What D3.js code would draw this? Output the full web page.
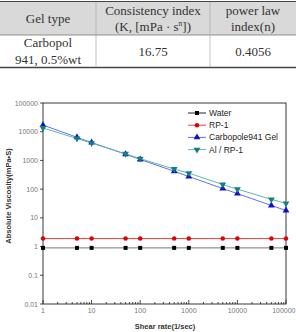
<!DOCTYPE html>
<html>
<head>
<meta charset="utf-8">
<script src="https://cdn.jsdelivr.net/npm/d3@7"></script>
<style>
  body { margin: 0; background: #fff; }
  svg { display: block; }
</style>
</head>
<body>
<svg id="chart" width="296" height="332"></svg>
<script>
// table content
const tableHeader = [["Gel type"], ["Consistency  index", "(K,  [mPa · s^n])"], ["power  law", "index(n)"]];
const tableRow = [["Carbopol", "941,  0.5%wt"], ["16.75"], ["0.4056"]];

// chart data
const shearRates = [1, 5, 10, 50, 100, 500, 1000, 5000, 10000, 50000, 100000];
const water = [0.9, 0.9, 0.9, 0.9, 0.9, 0.9, 0.9, 0.9, 0.9, 0.9, 0.9];
const rp1 = [1.9, 1.9, 1.9, 1.9, 1.9, 1.9, 1.9, 1.9, 1.9, 1.9, 1.9];
const carbopol = [17000, 6400, 4200, 1650, 1080, 420, 275, 105, 70, 27, 18];
const alRp1 = [13500, 5800, 4000, 1700, 1150, 500, 360, 145, 100, 44, 32];
const seriesNames = ["Water", "RP-1", "Carbopole941 Gel", "Al / RP-1"];
const xTicks = [1, 10, 100, 1000, 10000, 100000];
const yTicks = [0.01, 0.1, 1, 10, 100, 1000, 10000, 100000];

const svg = d3.select("#chart");

// ---- table ----
const colX = [0, 96, 210, 296];
const tbl = svg.append("g").attr("font-family", "'Liberation Serif', 'DejaVu Serif', serif")
  .attr("font-size", 13).attr("fill", "#333").style("white-space", "pre");

tbl.append("rect").attr("x", 0).attr("y", 2).attr("width", 296).attr("height", 33).attr("fill", "#d9d9d9");
tbl.append("line").attr("x1", 0).attr("x2", 296).attr("y1", 1.5).attr("y2", 1.5).attr("stroke", "#444").attr("stroke-width", 1.2);
tbl.append("line").attr("x1", 0).attr("x2", 296).attr("y1", 35).attr("y2", 35).attr("stroke", "#777").attr("stroke-width", 0.8);
tbl.append("line").attr("x1", 0).attr("x2", 296).attr("y1", 67.5).attr("y2", 67.5).attr("stroke", "#444").attr("stroke-width", 1.4);
[1, 2].forEach(i => {
  tbl.append("line").attr("x1", colX[i]).attr("x2", colX[i]).attr("y1", 2).attr("y2", 67)
    .attr("stroke", "#aaa").attr("stroke-width", 0.7);
});

function cellText(lines, col, yTop, yBot) {
  const cx = (colX[col] + colX[col + 1]) / 2;
  const mid = (yTop + yBot) / 2;
  const lh = 16.5;
  lines.forEach((ln, j) => {
    const yy = mid + (j - (lines.length - 1) / 2) * lh + 4.5;
    const t = tbl.append("text").attr("x", cx).attr("y", yy).attr("text-anchor", "middle");
    if (ln.includes("^n")) {
      const parts = ln.split("^n");
      t.append("tspan").text(parts[0]);
      t.append("tspan").attr("font-size", 7.5).attr("dy", -5).text("n");
      t.append("tspan").attr("dy", 5).text(parts[1]);
    } else {
      t.text(ln);
    }
  });
}
tableHeader.forEach((c, i) => cellText(c, i, 2, 35));
tableRow.forEach((c, i) => cellText(c, i, 35, 67));

// ---- chart ----
const x = d3.scaleLog().domain([1, 100000]).range([43, 286]);
const y = d3.scaleLog().domain([0.01, 100000]).range([304, 103]);

const axisFont = "'Liberation Sans', Arial, sans-serif";

// frame
svg.append("rect").attr("x", 43).attr("y", 103).attr("width", 243).attr("height", 201)
  .attr("fill", "none").attr("stroke", "#222").attr("stroke-width", 0.9);

// x axis ticks (major + minor, inward)
const xAxis = svg.append("g").attr("stroke", "#222").attr("stroke-width", 0.8);
for (let d = 1; d < 100000; d *= 10) {
  for (let m = 1; m <= 9; m++) {
    const v = d * m;
    xAxis.append("line").attr("x1", x(v)).attr("x2", x(v))
      .attr("y1", 304).attr("y2", m === 1 ? 300 : 302);
  }
}
xAxis.append("line").attr("x1", x(100000)).attr("x2", x(100000)).attr("y1", 304).attr("y2", 300);
svg.append("g").selectAll("text").data(xTicks).join("text")
  .attr("x", d => d === 100000 ? 295.5 : x(d)).attr("y", 313)
  .attr("text-anchor", d => d === 100000 ? "end" : "middle")
  .attr("font-family", axisFont).attr("font-size", 7).attr("fill", "#777")
  .text(d => d);

// y axis ticks
const yAxis = svg.append("g").attr("stroke", "#222").attr("stroke-width", 0.8);
yTicks.forEach(v => {
  yAxis.append("line").attr("x1", 40).attr("x2", 43).attr("y1", y(v)).attr("y2", y(v));
});
svg.append("g").selectAll("text").data(yTicks).join("text")
  .attr("x", 38).attr("y", d => y(d) + 2.5).attr("text-anchor", "end")
  .attr("font-family", axisFont).attr("font-size", 7).attr("fill", "#777")
  .text(d => d);

// titles
svg.append("text").attr("transform", "translate(11,196) rotate(-90)")
  .attr("text-anchor", "middle").attr("font-family", axisFont).attr("font-size", 7.5)
  .attr("font-weight", "bold").attr("fill", "#333").text("Absolute Viscosity(mPa\u2022S)");
svg.append("text").attr("x", 165).attr("y", 329).attr("text-anchor", "middle")
  .attr("font-family", axisFont).attr("font-size", 7.5).attr("font-weight", "bold")
  .attr("fill", "#333").text("Shear rate(1/sec)");

// series
const series = [
  { name: seriesNames[0], values: water, line: "#777", mark: "#000", shape: d3.symbolSquare, size: 16, rot: 0 },
  { name: seriesNames[1], values: rp1, line: "#f04040", mark: "#e00000", shape: d3.symbolCircle, size: 16, rot: 0 },
  { name: seriesNames[2], values: carbopol, line: "#6070f0", mark: "#1010d0", shape: d3.symbolTriangle, size: 20, rot: 0 },
  { name: seriesNames[3], values: alRp1, line: "#60b8a8", mark: "#108080", shape: d3.symbolTriangle, size: 20, rot: 180 }
];

const line = d3.line().x(d => x(d[0])).y(d => y(d[1]));

series.forEach(s => {
  const pts = shearRates.map((r, i) => [r, s.values[i]]);
  svg.append("path").datum(pts).attr("d", line)
    .attr("fill", "none").attr("stroke", s.line).attr("stroke-width", 1);
  svg.append("g").selectAll("path").data(pts).join("path")
    .attr("transform", d => `translate(${x(d[0])},${y(d[1])}) rotate(${s.rot})`)
    .attr("d", d3.symbol().type(s.shape).size(s.size))
    .attr("fill", s.mark);
});

// legend
const lg = svg.append("g");
series.forEach((s, i) => {
  const ly = 113 + i * 12.2;
  lg.append("line").attr("x1", 188).attr("x2", 206).attr("y1", ly).attr("y2", ly)
    .attr("stroke", i === 0 ? "#222" : s.line).attr("stroke-width", 1);
  lg.append("path").attr("transform", `translate(197,${ly}) rotate(${s.rot})`)
    .attr("d", d3.symbol().type(s.shape).size(s.size)).attr("fill", s.mark);
  lg.append("text").attr("x", 209).attr("y", ly + 3).attr("font-family", axisFont)
    .attr("font-size", 8.5).attr("fill", "#222").text(s.name);
});
</script>
</body>
</html>
